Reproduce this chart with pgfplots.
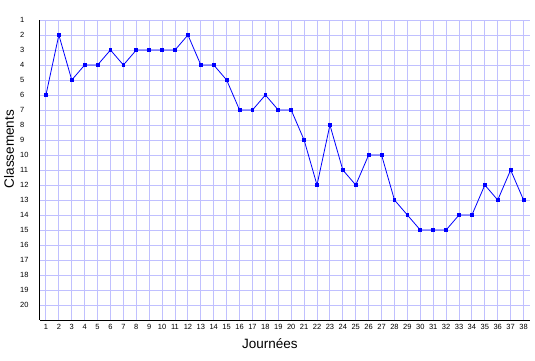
\documentclass[border=0pt]{standalone}
\usepackage{pgfplots}
\pgfplotsset{compat=1.18}
\usepackage{fontspec}
\setmainfont{Liberation Sans}
\definecolor{gridc}{RGB}{192,192,255}
\begin{document}
\begin{tikzpicture}[x=1pt,y=1pt]
\path[use as bounding box] (0,0) rectangle (535,360);
\begin{axis}[
  at={(40pt,40pt)}, anchor=south west,
  scale only axis, width=490pt, height=300pt,
  xmin=0.54, xmax=38.5, ymin=1, ymax=21, y dir=reverse,
  axis lines=left, axis line style={black, line width=1pt, -},
  xtick={1,...,38}, ytick={1,...,20},
  grid=major, major grid style={gridc, line width=0.9pt},
  major tick length=0pt,
  /pgf/number format/assume math mode=true,
  tick label style={font=\fontsize{7.5}{9}\selectfont},
  yticklabel style={anchor=west, inner sep=0pt, xshift=-20pt},
  xticklabel style={yshift=-1pt},
  xlabel={Journées}, ylabel={Classements},
  label style={font=\fontsize{13.5}{15}\selectfont},
  xlabel style={at={(axis description cs:0.469,-0.077)}, anchor=center},
  ylabel style={at={(axis description cs:-0.063,0.57)}, anchor=center, rotate=0},
  clip=false,
]
\addplot[blue, line width=0.8pt, mark=square*, mark size=1.4pt, mark options={fill=blue, draw=blue}] coordinates {
(1,6)(2,2)(3,5)(4,4)(5,4)(6,3)(7,4)(8,3)(9,3)(10,3)
(11,3)(12,2)(13,4)(14,4)(15,5)(16,7)(17,7)(18,6)(19,7)(20,7)
(21,9)(22,12)(23,8)(24,11)(25,12)(26,10)(27,10)(28,13)(29,14)(30,15)
(31,15)(32,15)(33,14)(34,14)(35,12)(36,13)(37,11)(38,13)
};
\end{axis}
\end{tikzpicture}
\end{document}
